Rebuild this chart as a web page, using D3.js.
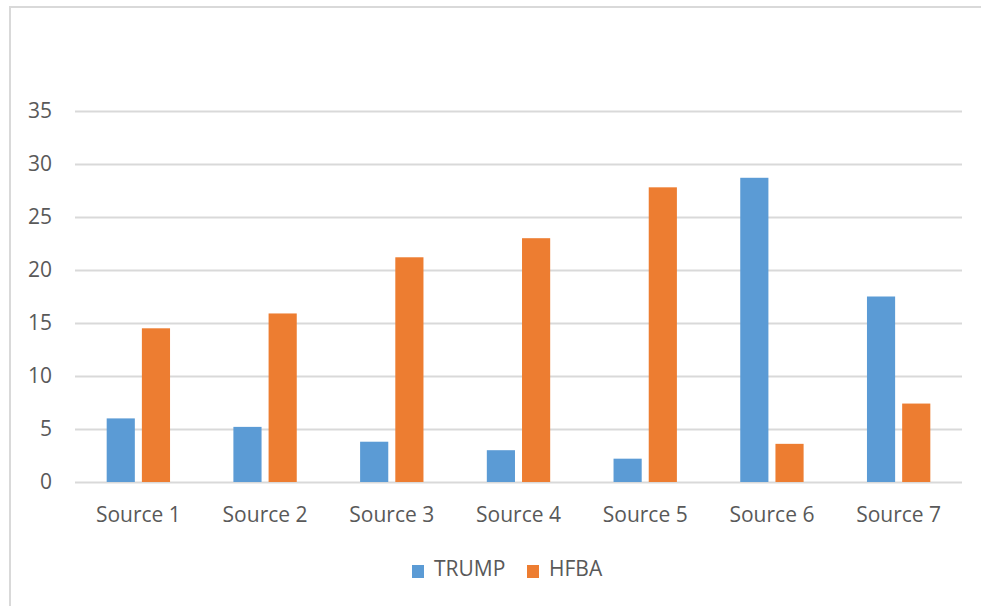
<!DOCTYPE html>
<html>
<head>
<meta charset="utf-8">
<script src="https://cdn.jsdelivr.net/npm/d3@7"></script>
<style>
  html, body { margin: 0; padding: 0; background: #fff; }
  svg text { font-family: "Open Sans", "Noto Sans", sans-serif; fill: #595959; }
</style>
</head>
<body>
<svg id="chart" width="981" height="606"></svg>
<script>
// Chart data
const categories = ["Source 1", "Source 2", "Source 3", "Source 4", "Source 5", "Source 6", "Source 7"];
const seriesNames = ["TRUMP", "HFBA"];
const trumpValues = [6.0, 5.2, 3.8, 3.0, 2.2, 28.7, 17.5];
const hfbaValues = [14.5, 15.9, 21.2, 23.0, 27.8, 3.6, 7.4];
const yTicks = [0, 5, 10, 15, 20, 25, 30, 35];
const colors = ["#5b9bd5", "#ed7d31"];

const svg = d3.select("#chart");
const W = 981, H = 606;
const margin = { left: 75, right: 19, top: 111, bottom: 124 };
const FONT = 21;

// Outer chart frame (top and left edges visible)
svg.append("rect")
  .attr("x", 10).attr("y", 7)
  .attr("width", W + 20).attr("height", H + 20)
  .attr("fill", "#fff")
  .attr("stroke", "#d9d9d9").attr("stroke-width", 2);

const x0 = d3.scaleBand()
  .domain(categories)
  .range([margin.left, W - margin.right])
  .paddingInner(0.5).paddingOuter(0.25);

const x1 = d3.scaleBand()
  .domain(seriesNames)
  .range([0, x0.bandwidth()])
  .paddingInner(0.2);

const y = d3.scaleLinear()
  .domain([0, 35])
  .range([H - margin.bottom, margin.top]);

// Horizontal gridlines and value labels
const yAxis = d3.axisLeft(y).tickValues(yTicks).tickSize(-(W - margin.right - margin.left)).tickPadding(23);
const gy = svg.append("g").attr("transform", `translate(${margin.left},0)`).call(yAxis);
gy.select(".domain").remove();
gy.selectAll(".tick line").attr("stroke", "#d9d9d9").attr("stroke-width", 2);
gy.selectAll(".tick text").attr("font-size", FONT).attr("fill", "#595959")
  .attr("font-family", "'Open Sans', sans-serif");

// Category axis labels
const xAxis = d3.axisBottom(d3.scaleBand().domain(categories).range([margin.left, W - margin.right]))
  .tickSize(0).tickPadding(25);
const gx = svg.append("g").attr("transform", `translate(0,${H - margin.bottom})`).call(xAxis);
gx.select(".domain").remove();
gx.selectAll(".tick text").attr("font-size", FONT).attr("fill", "#595959")
  .attr("font-family", "'Open Sans', sans-serif");

// Bars
const rows = categories.map((c, i) => ({ cat: c, vals: [trumpValues[i], hfbaValues[i]] }));
const groups = svg.append("g").selectAll("g").data(rows).join("g")
  .attr("transform", d => `translate(${x0(d.cat)},0)`);
groups.selectAll("rect")
  .data(d => d.vals.map((v, k) => ({ key: seriesNames[k], v, k })))
  .join("rect")
  .attr("x", d => x1(d.key))
  .attr("width", x1.bandwidth())
  .attr("y", d => y(d.v))
  .attr("height", d => y(0) - y(d.v))
  .attr("fill", d => colors[d.k]);

// Legend
const legend = svg.append("g").attr("transform", "translate(412,572)");
const legendX = [0, 115];
seriesNames.forEach((name, k) => {
  const g = legend.append("g").attr("transform", `translate(${legendX[k]},0)`);
  g.append("rect").attr("x", 0).attr("y", -7).attr("width", 12).attr("height", 13).attr("fill", colors[k]);
  g.append("text").attr("x", 22).attr("y", -3).attr("dy", "0.35em")
    .attr("font-size", FONT).text(name);
});
</script>
</body>
</html>
